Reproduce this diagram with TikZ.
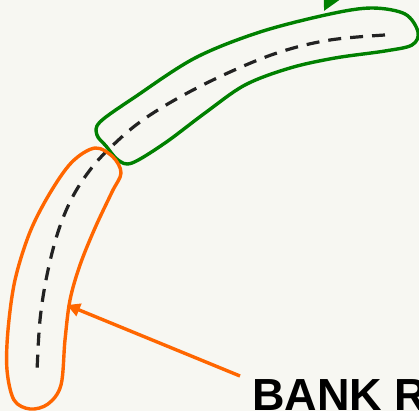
\documentclass[tikz,border=0pt]{standalone}
\usepackage{fontspec}
\setmainfont{Liberation Sans}
\usetikzlibrary{arrows.meta}
\definecolor{bg}{RGB}{247,247,242}
\definecolor{grn}{RGB}{0,128,0}
\definecolor{org}{RGB}{255,102,0}
\definecolor{dsh}{RGB}{34,34,34}
\begin{document}
\begin{tikzpicture}[x=1pt,y=-1pt,
  outline/.style={line width=3.4pt,line join=round},
  pathline/.style={line width=3.2pt,dsh,dash pattern=on 13pt off 9pt},
  lbl/.style={font=\bfseries\fontsize{45}{54}\selectfont,anchor=base west,inner sep=0pt}]
\fill[bg] (0,0) rectangle (419,411);
\useasboundingbox (0,0) rectangle (419,411);
% dashed centre line
\draw[pathline] plot[smooth,tension=0.6] coordinates {(385,35) (330,40) (280,52) (230,72) (180,97) (140,122) (110,148) (90,170) (72,198) (58,232) (47,275) (40,320) (37,372)};
% green outline
\draw[outline,grn] plot[smooth cycle,tension=0.55] coordinates {
 (100,122) (135,97) (195,58) (260,32) (330,14) (372,8) (405,14) (418,32) (412,45) (385,51) (335,58) (290,68) (245,85) (205,113) (165,143) (132,163) (118,160) (106,146) (97,135)};
% orange outline
\draw[outline,org] plot[smooth cycle,tension=0.55] coordinates {
 (95,148) (113,157) (121,173) (112,192) (95,228) (80,265) (70,300) (65,340) (61,385) (48,404) (30,409) (14,400) (7,370) (8,330) (15,280) (30,232) (50,193) (72,162)};
\coordinate (astart) at (240,376);
\coordinate (aend) at (67,305);
\draw[org,line width=3.4pt,-{Triangle[length=13pt,width=13pt]}] (astart) -- (aend);
\coordinate (gstart) at (352,-45);
\coordinate (gend) at (324,11);
\draw[grn,line width=3.4pt,-{Triangle[length=18pt,width=18pt]}] (gstart) -- (gend);
\node[lbl] (label) at (252,410) {BANK R};
\end{tikzpicture}
\end{document}
